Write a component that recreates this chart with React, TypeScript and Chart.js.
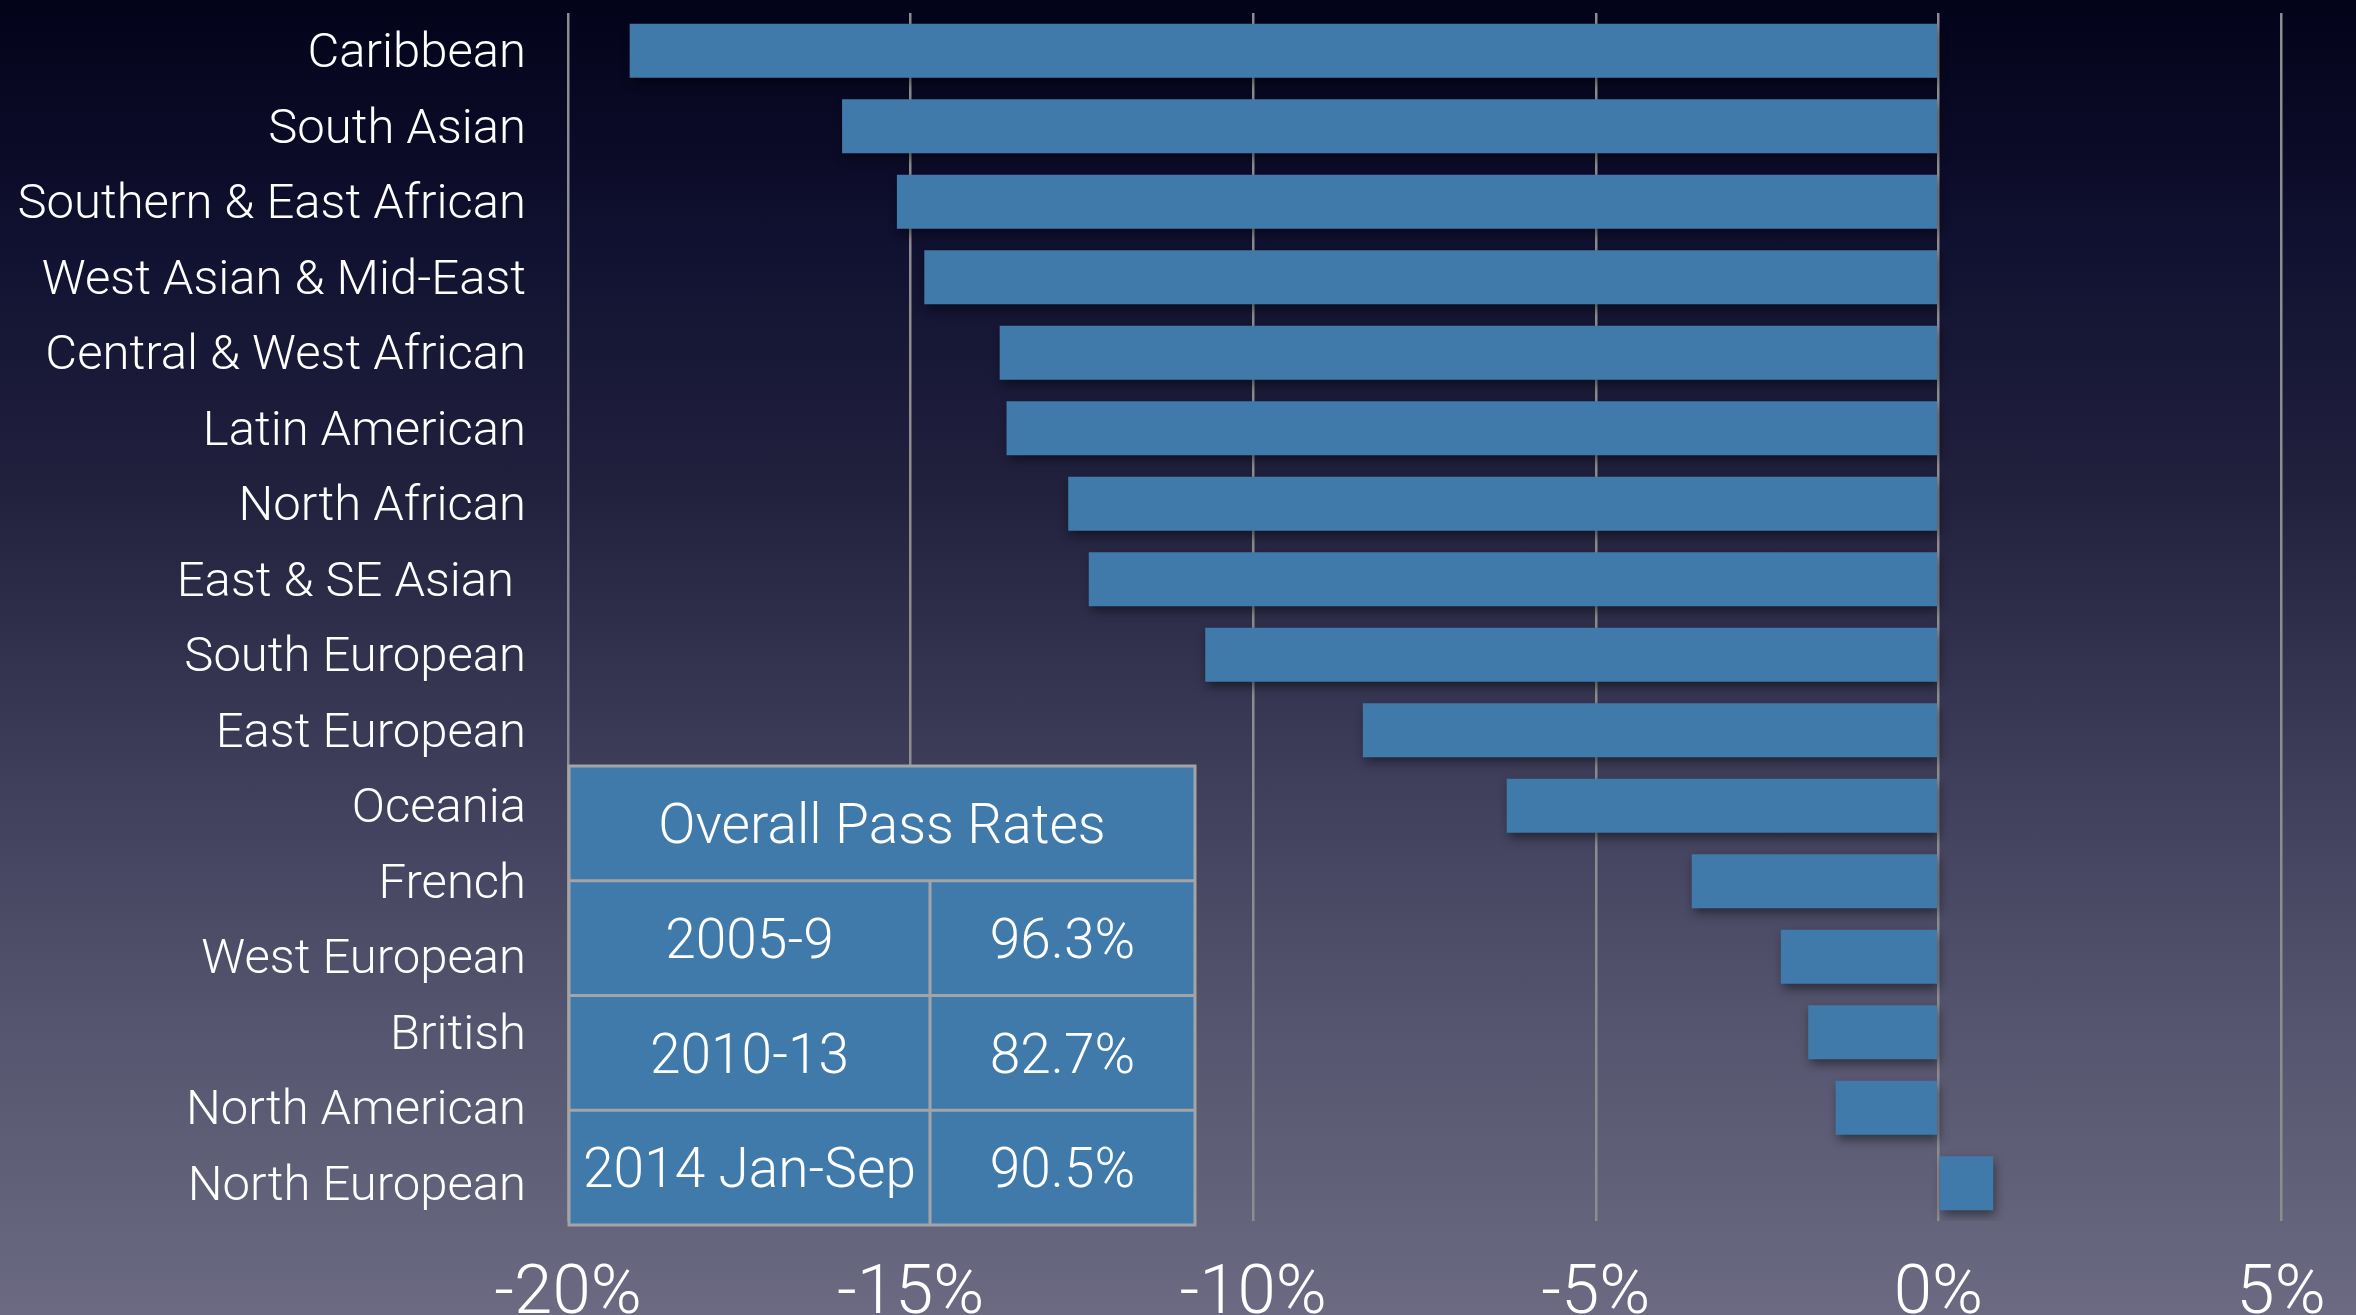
import React, { useEffect, useRef } from "react";
import { Chart, registerables } from "chart.js";

Chart.register(...registerables);

const categories = [
  "Caribbean",
  "South Asian",
  "Southern & East African",
  "West Asian & Mid-East",
  "Central & West African",
  "Latin American",
  "North African",
  "East & SE Asian ",
  "South European",
  "East European",
  "Oceania",
  "French",
  "West European",
  "British",
  "North American",
  "North European",
];

const passRateChange = [
  -19.1, -16.0, -15.2, -14.8, -13.7, -13.6, -12.7, -12.4, -10.7, -8.4, -6.3, -3.6, -2.3, -1.9, -1.5, 0.8,
];

const xMin = -20;
const xMax = 5;
const xStep = 5;

const tableTitle = "Overall Pass Rates";
const periods = ["2005-9", "2010-13", "2014 Jan-Sep"];
const overallRates = ["96.3%", "82.7%", "90.5%"];

const FONT = "Roboto";
const W = 2356;
const H = 1420;

export default function App() {
  const ref = useRef<HTMLCanvasElement | null>(null);

  useEffect(() => {
    const canvas = ref.current;
    if (!canvas) return;

    const shadowPlugin = {
      id: "barShadow",
      beforeDatasetsDraw(chart: any) {
        const ctx = chart.ctx;
        ctx.save();
        ctx.shadowColor = "rgba(0,0,0,0.45)";
        ctx.shadowBlur = 10;
        ctx.shadowOffsetY = 5;
        ctx.shadowOffsetX = 2;
      },
      afterDatasetsDraw(chart: any) {
        chart.ctx.restore();
      },
    };

    const tablePlugin = {
      id: "passTable",
      afterDraw(chart: any) {
        const ctx = chart.ctx;
        const xs = chart.scales.x;
        const left = xs.getPixelForValue(xMin) + 1;
        const right = 1195;
        const top = 766;
        const rowH = 114.75;
        const bottom = top + rowH * 4;
        const divX = 930;
        ctx.save();
        ctx.fillStyle = "#3f7aab";
        ctx.fillRect(left, top, right - left, bottom - top);
        ctx.strokeStyle = "#a4a4a6";
        ctx.lineWidth = 3;
        ctx.strokeRect(left, top, right - left, bottom - top);
        ctx.beginPath();
        for (let i = 1; i < 4; i++) {
          ctx.moveTo(left, top + rowH * i);
          ctx.lineTo(right, top + rowH * i);
        }
        ctx.moveTo(divX, top + rowH);
        ctx.lineTo(divX, bottom);
        ctx.stroke();
        ctx.fillStyle = "#ffffff";
        ctx.textAlign = "center";
        ctx.textBaseline = "middle";
        ctx.font = `300 55px ${FONT}`;
        ctx.fillText(tableTitle, (left + right) / 2, top + rowH / 2 + 6);
        for (let i = 0; i < periods.length; i++) {
          const cy = top + rowH * (i + 1) + rowH / 2 + 6;
          ctx.fillText(periods[i], (left + divX) / 2, cy);
          ctx.fillText(overallRates[i], (divX + right) / 2, cy);
        }
        ctx.restore();
      },
    };

    const chart = new Chart(canvas, {
      type: "bar",
      data: {
        labels: categories,
        datasets: [
          {
            data: passRateChange,
            backgroundColor: "#3f7aab",
            borderWidth: 0,
            categoryPercentage: 1,
            barPercentage: 0.715,
          },
        ],
      },
      options: {
        indexAxis: "y",
        responsive: false,
        animation: false,
        devicePixelRatio: 1,
        layout: { padding: { top: 13, right: 75, left: 0, bottom: 0 } },
        plugins: {
          legend: { display: false },
          tooltip: { enabled: false },
          title: { display: false },
        },
        scales: {
          x: {
            type: "linear",
            min: xMin,
            max: xMax,
            position: "bottom",
            afterFit(scale: any) {
              scale.height = H - 1221;
              scale.paddingLeft = 0;
              scale.paddingRight = 0;
            },
            ticks: {
              stepSize: xStep,
              color: "#ffffff",
              padding: 33,
              font: { family: FONT, size: 69, weight: "300" },
              callback: (v: any) => `${v}%`,
              maxRotation: 0,
              autoSkip: false,
            },
            grid: {
              color: "#8d8d90",
              lineWidth: 2.5,
              drawTicks: false,
            },
            border: { display: false },
          },
          y: {
            type: "category",
            afterFit(scale: any) {
              scale.width = 568;
              scale.paddingTop = 0;
              scale.paddingBottom = 0;
            },
            ticks: {
              color: "#ffffff",
              padding: 42,
              labelOffset: 4,
              font: { family: FONT, size: 49, weight: "300" },
              autoSkip: false,
            },
            grid: { display: false, drawTicks: false },
            border: { display: false },
          },
        },
      },
      plugins: [shadowPlugin, tablePlugin],
    });

    return () => chart.destroy();
  }, []);

  return (
    <div
      style={{
        position: "fixed",
        left: 0,
        top: 0,
        width: W,
        height: 1315,
        overflow: "hidden",
        background:
          "linear-gradient(180deg, #03031a 0%, #101030 18%, #22223f 38%, #3d3d5a 58%, #55556f 78%, #6b6a82 100%)",
      }}
    >
      <canvas ref={ref} width={W} height={H} style={{ display: "block", width: W, height: H }} />
    </div>
  );
}
